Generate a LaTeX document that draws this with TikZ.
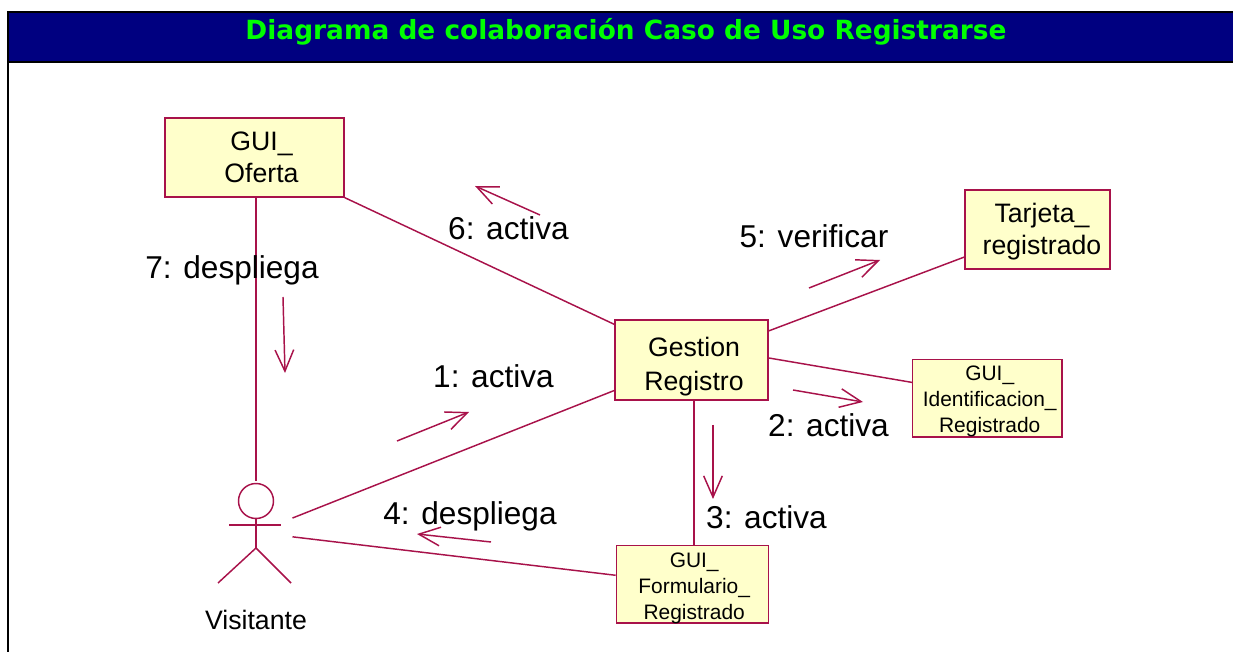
\documentclass[tikz,border=0pt]{standalone}
\usepackage{fontspec}
\setmainfont{Liberation Sans}
\newfontfamily\titlefont{DejaVu Sans}
\usetikzlibrary{arrows.meta}

\definecolor{rosered}{RGB}{168,18,74}
\definecolor{rosefill}{RGB}{255,255,203}
\definecolor{barblue}{RGB}{0,0,128}
\definecolor{bargreen}{RGB}{0,255,0}

% text of a box, moved right and down from the middle of the box
\newcommand{\boxtext}[3]{\smash{\makebox[0pt]{\hspace*{#1}\raisebox{\dimexpr-#2-.25em\relax}{\begin{tabular}{@{}c@{}}#3\end{tabular}}}}}

\tikzset{every picture/.style={line width=0.75pt}}
\tikzset{
classbox/.style={draw=rosered, fill=rosefill, line width=1.1pt, inner sep=0pt},
bigbox/.style={classbox, font=\fontsize{20}{24}\selectfont},
smallbox/.style={classbox, font=\fontsize{15.7}{19.5}\selectfont},
link/.style={draw=rosered, line width=1.1pt},
msg/.style={draw=rosered, line width=1.1pt, -{Straight Barb[length=16pt,width=14pt]}},
msglabel/.style={font=\fontsize{23.7}{28}\selectfont, inner sep=0pt}}

\begin{document}
\begin{tikzpicture}[x=0.75pt,y=0.75pt,yscale=-1,xscale=1]

\useasboundingbox (0,0) rectangle (1233,652);

% TITLE

\draw [barblue, fill=barblue] (8,12) rectangle (1233,62);
\draw [black, line width=1.5pt] (8,652) -- (8,12) -- (1233,12);
\draw [black, line width=1.5pt] (8,62) -- (1233,62);
\node (title) at (626,31.5) [text=bargreen, inner sep=0pt, font=\titlefont\bfseries\fontsize{19.8}{24}\selectfont] {Diagrama de colaboración Caso de Uso Registrarse};

% CLASSES

\node (oferta) at (254.5,157.5) [bigbox, minimum width=134pt, minimum height=59pt] {\boxtext{10.5pt}{2.3pt}{GUI\_\\Oferta}};
\node (gestion) at (691.5,360) [bigbox, minimum width=115pt, minimum height=60pt, font=\fontsize{20}{25.5}\selectfont] {\boxtext{3.8pt}{5.3pt}{Gestion\\Registro}};
\node (tarjeta) at (1037.5,229.5) [bigbox, minimum width=109pt, minimum height=59pt] {\boxtext{6.7pt}{2.2pt}{Tarjeta\_\\registrado}};
\node (identificacion) at (987.4,398.4) [smallbox, minimum width=112pt, minimum height=58pt] {\boxtext{3.5pt}{2.2pt}{GUI\_\\Identificacion\_\\Registrado}};
\node (formulario) at (692.4,584.4) [smallbox, minimum width=114pt, minimum height=58pt] {\boxtext{2.7pt}{2.3pt}{GUI\_\\Formulario\_\\Registrado}};

% ACTOR

\node (visitante) at (256,532.5) [minimum width=54pt, minimum height=76pt, inner sep=0pt] {};
\draw [rosered, line width=1.1pt] (256,501) circle[radius=17.5];
\draw [rosered, line width=1.1pt] (256,518.5) -- (256,548);
\draw [rosered, line width=1.1pt] (229,525) -- (281,525);
\draw [rosered, line width=1.1pt] (218,583) -- (256,548) -- (291,583);
\node (visitantelabel) at (256,620) [font=\fontsize{20}{24}\selectfont, inner sep=0pt] {Visitante};

% LINKS

\draw [link] (oferta.south -| visitante.north) -- (visitante.north);
\draw [link] (oferta.south east) -- ([yshift=3.75pt]gestion.north west);
\draw [link] (gestion) -- (tarjeta);
\draw [link] ([yshift=-1.5pt]gestion.east) -- ([yshift=-12pt]identificacion.west);
\draw [link] ([xshift=1.9pt]gestion.south) -- ([xshift=1.9pt]gestion.south |- formulario.north);
\draw [link] (visitante) -- (gestion);
\draw [link] (visitante) -- (formulario);

% MESSAGES

\coordinate (m1a) at (397,441);
\coordinate (m1b) at (469,412);
\coordinate (m2a) at (793,390);
\coordinate (m2b) at (863,402);
\coordinate (m3a) at (713,425);
\coordinate (m3b) at (713,499);
\coordinate (m4a) at (491,542);
\coordinate (m4b) at (417,534);
\coordinate (m5a) at (809,288);
\coordinate (m5b) at (880,260);
\coordinate (m6a) at (540,215);
\coordinate (m6b) at (475,186);
\coordinate (m7a) at (283,297);
\coordinate (m7b) at (285,373);

\foreach \m in {1,...,7}{
    \draw [msg] (m\m a) -- (m\m b);
}

% LABELS

\node (l1) at (493.5,376) [msglabel] {1: activa};
\node (l2) at (828.5,425) [msglabel] {2: activa};
\node (l3) at (766.5,517) [msglabel] {3: activa};
\node (l4) at (470,516) [msglabel] {4: despliega};
\node (l5) at (814,236) [msglabel] {5: verificar};
\node (l6) at (508.5,228) [msglabel] {6: activa};
\node (l7) at (232,270) [msglabel] {7: despliega};

\end{tikzpicture}
\end{document}
